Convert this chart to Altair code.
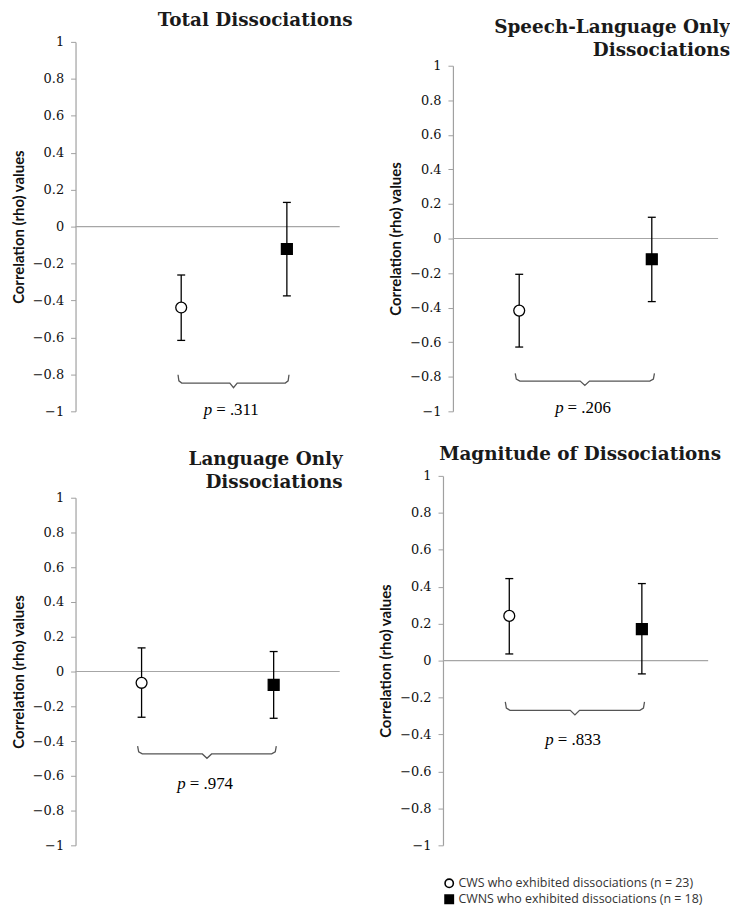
import altair as alt
import pandas as pd

# ---------------- data ----------------
panel_titles = [
    ["Total Dissociations"],
    ["Speech-Language Only", "Dissociations"],
    ["Language Only", "Dissociations"],
    ["Magnitude of Dissociations"],
]
group_labels = [
    "CWS who exhibited dissociations (n = 23)",
    "CWNS who exhibited dissociations (n = 18)",
]
group_pos = [1, 2]

cws_rho = [-0.438, -0.417, -0.065, 0.242]
cws_lo = [-0.616, -0.628, -0.263, 0.036]
cws_hi = [-0.262, -0.207, 0.136, 0.444]

cwns_rho = [-0.121, -0.120, -0.077, 0.170]
cwns_lo = [-0.375, -0.365, -0.269, -0.072]
cwns_hi = [0.131, 0.123, 0.115, 0.417]

p_values = [".311", ".206", ".974", ".833"]
brace_rho = [-0.847, -0.825, -0.474, -0.269]
p_label_rho = [-0.995, -0.98, -0.647, -0.428]

y_ticks = [-1, -0.8, -0.6, -0.4, -0.2, 0, 0.2, 0.4, 0.6, 0.8, 1]

# ---------------- layout (not data) ----------------
x_domains = [[0, 2.5], [0.5, 2.5], [0.5, 2.5], [0.5, 2.5]]
view_height = 372
top_gap = [0, 24, 22, 0]          # empty space above the axis inside each view
plot_widths = [266, 267, 266, 267]
title_dx = [13, 12, 3, 13]
title_offset = 6


def make_legend():
    return alt.Legend(
        title=None,
        orient="bottom",
        direction="vertical",
        offset=32,
        padding=0,
        labelFont="Open Sans",
        labelFontSize=12.5,
        labelColor="#333333",
        labelLimit=0,
        symbolSize=70,
        symbolStrokeColor="black",
        symbolStrokeWidth=1.6,
        rowPadding=0,
        labelOffset=3,
    )


def brace_frame(i):
    x0 = group_pos[0] - 0.03
    x1 = group_pos[1] + 0.02
    xm = (x0 + x1) / 2
    y = brace_rho[i]
    pts = [
        (x0, y + 0.045), (x0 + 0.008, y + 0.012), (x0 + 0.035, y),
        (xm - 0.035, y), (xm, y - 0.025), (xm + 0.035, y),
        (x1 - 0.035, y), (x1 - 0.008, y + 0.012), (x1, y + 0.045),
    ]
    return pd.DataFrame({"pos": [p[0] for p in pts], "rho": [p[1] for p in pts],
                         "k": list(range(len(pts)))})


def panel(i, show_legend):
    df = pd.DataFrame({
        "group": group_labels,
        "pos": group_pos,
        "rho": [cws_rho[i], cwns_rho[i]],
        "lo": [cws_lo[i], cwns_lo[i]],
        "hi": [cws_hi[i], cwns_hi[i]],
    })
    xs = alt.Scale(domain=x_domains[i], nice=False, zero=False)
    ys = alt.Scale(domain=[-1, 1], nice=False, zero=False,
                   range=[view_height, top_gap[i]])
    yaxis = alt.Axis(values=y_ticks, format="~g", title="Correlation (rho) values")
    X = alt.X("pos:Q", scale=xs, axis=None)

    zero = alt.Chart(pd.DataFrame({"rho": [0]})).mark_rule(
        color="#a6a6a6", strokeWidth=1.2
    ).encode(y=alt.Y("rho:Q", scale=ys, axis=yaxis))

    base = alt.Chart(df)
    bars = base.mark_rule(color="black", strokeWidth=1.3).encode(
        x=X, y=alt.Y("lo:Q", scale=ys, axis=yaxis), y2="hi:Q")
    cap_lo = base.mark_tick(orient="horizontal", size=8, thickness=1.3,
                            color="black", opacity=1).encode(
        x=X, y=alt.Y("lo:Q", scale=ys, axis=yaxis))
    cap_hi = base.mark_tick(orient="horizontal", size=8, thickness=1.3,
                            color="black", opacity=1).encode(
        x=X, y=alt.Y("hi:Q", scale=ys, axis=yaxis))
    leg = make_legend() if show_legend else None
    pts = base.mark_point(filled=True, strokeWidth=1.3,
                          opacity=1, size=120).encode(
        x=X,
        y=alt.Y("rho:Q", scale=ys, axis=yaxis),
        shape=alt.Shape("group:N", scale=alt.Scale(domain=group_labels,
                                                   range=["circle", "square"]),
                        legend=leg),
        fill=alt.Fill("group:N", scale=alt.Scale(domain=group_labels,
                                                 range=["white", "black"]),
                      legend=leg),
        stroke=alt.Stroke("group:N", scale=alt.Scale(domain=group_labels,
                                                     range=["black", "black"]),
                          legend=leg),
    )

    brace = alt.Chart(brace_frame(i)).mark_line(
        color="#555555", strokeWidth=1.3
    ).encode(x=X, y=alt.Y("rho:Q", scale=ys, axis=yaxis), order="k:Q")

    tdf = pd.DataFrame({"pos": [sum(group_pos) / 2], "rho": [p_label_rho[i]],
                        "p": ["p"], "val": ["= " + p_values[i]]})
    tbase = alt.Chart(tdf)
    ptxt = tbase.mark_text(font="Liberation Serif", fontSize=17,
                           fontStyle="italic", align="right", dx=-22,
                           color="black").encode(
        x=X, y=alt.Y("rho:Q", scale=ys, axis=yaxis), text="p:N")
    vtxt = tbase.mark_text(font="Liberation Serif", fontSize=17,
                           align="left", dx=-18, color="black").encode(
        x=X, y=alt.Y("rho:Q", scale=ys, axis=yaxis), text="val:N")

    return alt.layer(zero, brace, bars, cap_lo, cap_hi, pts, ptxt, vtxt).properties(
        width=plot_widths[i],
        height=view_height,
        title=alt.TitleParams(
            text=panel_titles[i], anchor="end", frame="group", dx=title_dx[i],
            font="DejaVu Serif", fontSize=18.5, fontWeight="bold",
            color="#1a1a1a", lineHeight=23,
            offset=title_offset - top_gap[i],
        ),
    )


indep = dict(shape="independent", fill="independent", stroke="independent")

row1 = alt.hconcat(panel(0, False), panel(1, False), spacing=36).resolve_scale(
    **indep).resolve_legend(**indep)
row2 = alt.hconcat(panel(2, False), panel(3, True), spacing=36).resolve_scale(
    **indep).resolve_legend(**indep)

chart = alt.vconcat(row1, row2, spacing=26).resolve_scale(**indep).resolve_legend(
    **indep
).properties(
    padding={"left": 3, "top": 0, "right": 0, "bottom": 0}
).configure_view(stroke=None).configure_axis(
    grid=False,
    domainColor="#a0a0a0",
    domainWidth=1.2,
    tickColor="#a0a0a0",
    tickSize=5,
    labelFont="DejaVu Serif",
    labelFontSize=13,
    labelColor="#111111",
    labelPadding=7,
    titleFont="Lato",
    titleFontWeight="bold",
    titleFontSize=15,
    titleColor="#111111",
    titlePadding=6,
)

chart.save("out.html", embed_options={"renderer": "svg", "actions": False})
